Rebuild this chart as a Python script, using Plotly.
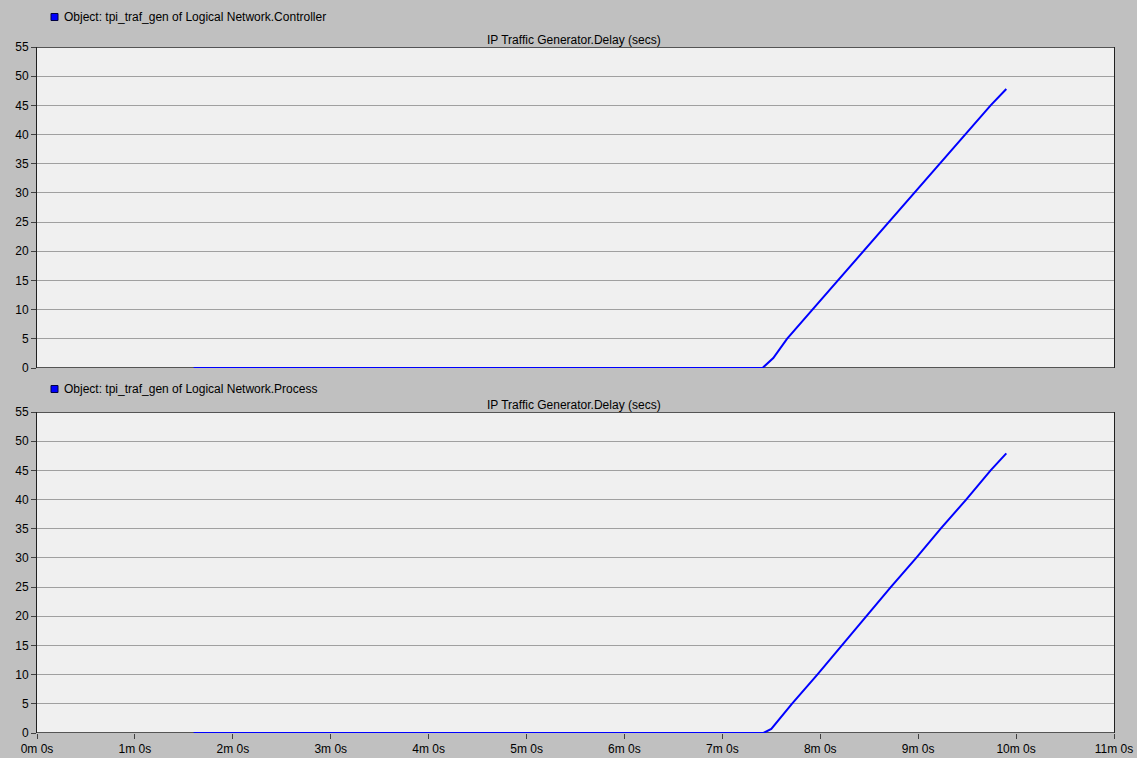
import plotly.graph_objects as go

# Data (time in minutes, delay in seconds)
ctrl_time = [1.60, 7.41, 7.52, 7.66, 7.92, 8.18, 8.44, 8.70, 8.96, 9.22, 9.48, 9.74, 9.90]
ctrl_delay = [0, 0, 1.7, 5, 10, 15, 20, 25, 30, 35, 40, 45, 47.8]
proc_time = [1.60, 7.42, 7.50, 7.71, 7.97, 8.22, 8.47, 8.72, 8.98, 9.23, 9.49, 9.74, 9.90]
proc_delay = [0, 0, 0.7, 5, 10, 15, 20, 25, 30, 35, 40, 45, 47.9]

x_tickvals = list(range(0, 12))
x_ticktext = [f"{m}m 0s" for m in x_tickvals]
y_tickvals = list(range(0, 56, 5))

panel_names = ["Object: tpi_traf_gen of Logical Network.Controller",
               "Object: tpi_traf_gen of Logical Network.Process"]
panel_title = "IP Traffic Generator.Delay (secs)"

W, H = 1137, 758
L, R, T, B = 37, 23, 47, 25
pw, ph = W - L - R, H - T - B

def py(px):  # pixel y -> paper y
    return (H - B - px) / ph

def pxx(px):  # pixel x -> paper x
    return (px - L) / pw

top_dom = [py(368), 1.0]
bot_dom = [0.0, py(412)]

FONT = "Liberation Sans, Arial, sans-serif"
fig = go.Figure()
fig.add_trace(go.Scatter(x=ctrl_time, y=ctrl_delay, mode="lines", cliponaxis=False,
                         line=dict(color="#0000ff", width=2), xaxis="x", yaxis="y",
                         showlegend=False))
fig.add_trace(go.Scatter(x=proc_time, y=proc_delay, mode="lines", cliponaxis=False,
                         line=dict(color="#0000ff", width=2), xaxis="x2", yaxis="y2",
                         showlegend=False))

yax = dict(range=[0, 55], tickvals=y_tickvals, showgrid=True, gridcolor="#a0a0a0",
           gridwidth=1, showline=True, linecolor="#202020", linewidth=1, mirror=True,
           ticks="outside", ticklen=5, tickcolor="#404040", zeroline=False,
           automargin=False,
           tickfont=dict(size=12, color="#000000", family=FONT), fixedrange=True)
xax = dict(range=[0, 11], tickvals=x_tickvals, ticktext=x_ticktext, showgrid=False,
           showline=False, zeroline=False, automargin=False,
           tickfont=dict(size=12, color="#000000", family=FONT))

fig.update_layout(
    width=W, height=H, autosize=False,
    margin=dict(l=L, r=R, t=T, b=B, autoexpand=False),
    paper_bgcolor="#c0c0c0", plot_bgcolor="#f0f0f0",
    font=dict(family=FONT, size=12, color="#000000"),
    xaxis=dict(xax, domain=[0, 1], anchor="y", showticklabels=False, ticks=""),
    yaxis=dict(yax, domain=top_dom, anchor="x"),
    xaxis2=dict(xax, domain=[0, 1], anchor="y2", ticks="outside", ticklen=5,
                tickcolor="#404040"),
    yaxis2=dict(yax, domain=bot_dom, anchor="x2"),
)

annotations = []
shapes = []
for name, ypix in [(panel_names[0], 17), (panel_names[1], 389)]:
    annotations.append(dict(text=name, xref="paper", yref="paper", x=pxx(62), y=py(ypix),
                            xanchor="left", yanchor="middle", showarrow=False,
                            font=dict(size=12, family=FONT, color="#000000")))
    shapes.append(dict(type="rect", xref="paper", yref="paper",
                       x0=pxx(51), x1=pxx(58), y0=py(ypix + 3.5), y1=py(ypix - 3.5),
                       fillcolor="#0000ff", line=dict(color="#000040", width=1)))
for dom in (top_dom, bot_dom):
    annotations.append(dict(text=panel_title, xref="paper", yref="paper", x=pxx(574),
                            y=dom[1], xanchor="center", yanchor="bottom", yshift=-2,
                            showarrow=False, font=dict(size=12, family=FONT, color="#000000")))
# horizontal frame lines drawn beneath the traces
for xr, yr in (("x", "y"), ("x2", "y2")):
    for yv in (0, 55):
        shapes.append(dict(type="line", xref=xr, yref=yr, x0=0, x1=11, y0=yv, y1=yv,
                           layer="between", line=dict(color="#202020", width=1.5)))
fig.update_layout(annotations=annotations, shapes=shapes)

fig.write_html("out.html", config={"displayModeBar": False},
               post_script="document.body.style.margin='0px';")
